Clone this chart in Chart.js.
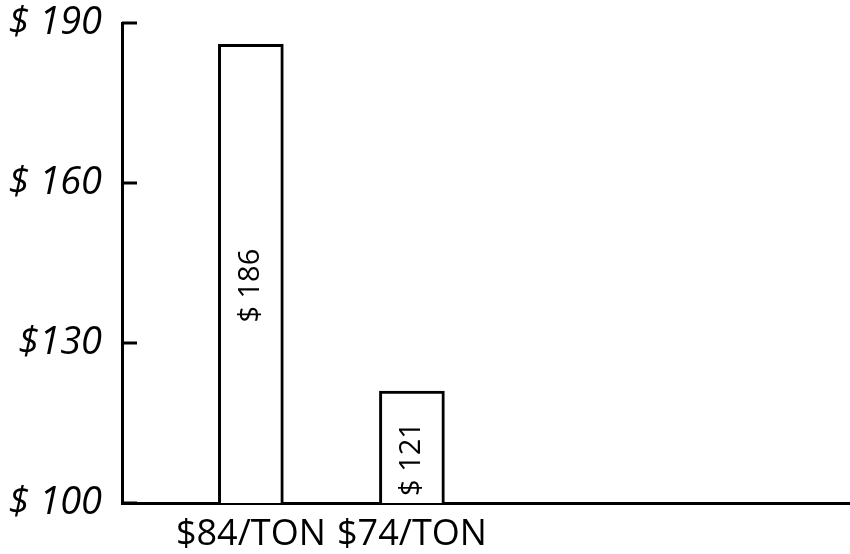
<!DOCTYPE html>
<html lang="en">
<head>
    <meta charset="UTF-8">
    <title>Price per ton</title>
    <script src="https://cdn.jsdelivr.net/npm/chart.js"></script>
    <style>
        html, body { margin: 0; padding: 0; background: #fff; }
        .chart-box { width: 850px; height: 554px; position: relative; }
    </style>
</head>
<body>
    <div class="chart-box">
        <canvas id="priceChart"></canvas>
    </div>

    <script>
        // data
        const categories = ['$84/TON', '$74/TON'];
        const categoryPos = [1, 2];
        const prices = [186, 121];
        const priceLabels = ['$ 186', '$ 121'];
        const yTicks = [100, 130, 160, 190];
        const yTickLabels = ['$ 100', '$130', '$ 160', '$ 190'];

        const ink = '#000';

        // short tick marks pointing into the plot, like the hand drawing
        const innerTicks = {
            id: 'innerTicks',
            afterDraw(chart) {
                const ctx = chart.ctx;
                const y = chart.scales.y;
                ctx.save();
                ctx.strokeStyle = ink;
                ctx.lineWidth = 3;
                yTicks.forEach(v => {
                    const py = y.getPixelForValue(v);
                    ctx.beginPath();
                    ctx.moveTo(y.right, py);
                    ctx.lineTo(y.right + 15, py);
                    ctx.stroke();
                });
                ctx.restore();
            }
        };

        // value written sideways inside each bar
        const barText = {
            id: 'barText',
            afterDatasetsDraw(chart) {
                const ctx = chart.ctx;
                const meta = chart.getDatasetMeta(0);
                ctx.save();
                ctx.fillStyle = ink;
                ctx.font = '29px "Open Sans"';
                ctx.textAlign = 'center';
                ctx.textBaseline = 'middle';
                meta.data.forEach((bar, i) => {
                    const props = bar.getProps(['x', 'y', 'base'], true);
                    const cy = (props.y + props.base) / 2 + 12;
                    ctx.save();
                    ctx.translate(props.x, cy);
                    ctx.rotate(-Math.PI / 2);
                    ctx.fillText(priceLabels[i], 0, 0);
                    ctx.restore();
                });
                ctx.restore();
            }
        };

        new Chart(document.getElementById('priceChart'), {
            type: 'bar',
            data: {
                datasets: [{
                    data: categoryPos.map((x, i) => ({ x: x, y: prices[i] })),
                    base: yTicks[0],
                    backgroundColor: '#fff',
                    borderColor: ink,
                    borderWidth: 3,
                    borderSkipped: 'bottom',
                    barThickness: 65
                }]
            },
            options: {
                responsive: true,
                maintainAspectRatio: false,
                animation: false,
                layout: { padding: 0 },
                plugins: {
                    legend: { display: false },
                    tooltip: { enabled: false }
                },
                scales: {
                    x: {
                        type: 'linear',
                        min: 0.2,
                        max: 4.72,
                        offset: false,
                        grid: { display: false, offset: false },
                        border: { color: ink, width: 3 },
                        afterBuildTicks: s => { s.ticks = categoryPos.map(v => ({ value: v })); },
                        afterFit: s => { s.height = 51; },
                        ticks: {
                            color: ink,
                            padding: 2,
                            maxRotation: 0,
                            autoSkip: false,
                            font: { family: 'Open Sans', size: 36 },
                            callback: v => categories[categoryPos.indexOf(v)] || ''
                        }
                    },
                    y: {
                        min: 100,
                        max: 190,
                        grid: { display: false },
                        border: { color: ink, width: 3 },
                        afterBuildTicks: s => { s.ticks = yTicks.map(v => ({ value: v })); },
                        afterFit: s => { s.width = 122; s.paddingTop = 23; },
                        ticks: {
                            color: ink,
                            padding: 12,
                            font: { family: 'Open Sans', size: 38, style: 'italic' },
                            callback: v => yTickLabels[yTicks.indexOf(v)]
                        }
                    }
                }
            },
            plugins: [innerTicks, barText]
        });
    </script>
</body>
</html>
